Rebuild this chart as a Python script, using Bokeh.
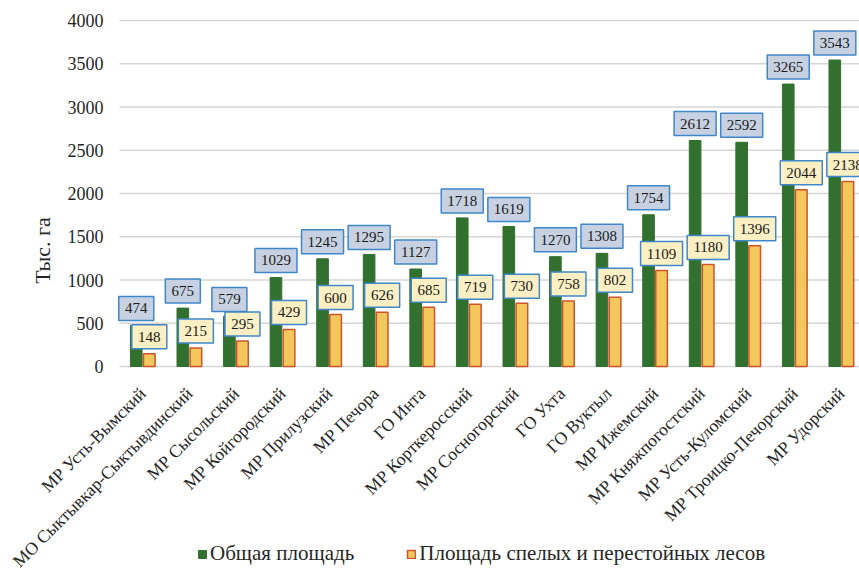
from math import pi
from bokeh.plotting import figure
from bokeh.models import (ColumnDataSource, Range1d, FixedTicker, Legend,
                          LegendItem, Label, LinearAxis)
from bokeh.core.properties import value
from bokeh.embed import file_html
from bokeh.resources import INLINE

categories = ["МР Усть-Вымский", "МО Сыктывкар-Сыктывдинский", "МР Сысольский",
              "МР Койгородский", "МР Прилузский", "МР Печора", "ГО Инта",
              "МР Корткеросский", "МР Сосногорский", "ГО Ухта", "ГО Вуктыл",
              "МР Ижемский", "МР Княжпогостский", "МР Усть-Куломский",
              "МР Троицко-Печорский", "МР Удорский"]
total_area = [474, 675, 579, 1029, 1245, 1295, 1127, 1718, 1619, 1270, 1308,
              1754, 2612, 2592, 3265, 3543]
mature_area = [148, 215, 295, 429, 600, 626, 685, 719, 730, 758, 802,
               1109, 1180, 1396, 2044, 2138]
y_ticks = [0, 500, 1000, 1500, 2000, 2500, 3000, 3500, 4000]
series_names = ["Общая площадь", "Площадь спелых и перестойных лесов"]
y_title = "Тыс. га"

FONT = "Liberation Serif"
GREEN = "#32702f"
YELLOW = "#f4c75c"
YELLOW_LINE = "#d0532b"
BOX_LINE = "#3f87c9"
TEXT = "#262626"

W, H = 859, 570
TOP = 20                  # pixels above the top grid line
n = len(categories)
xs = list(range(n))
Y_MAX = 4000
PX_ABOVE = 346            # pixels from value 0 up to Y_MAX
PX_BELOW = H - TOP - PX_ABOVE
px = Y_MAX / PX_ABOVE     # data units per pixel
CAT_PX = 46.57            # pixels per category
PLOT_LEFT = 119           # where the value axis sits
x_start = -0.5 - PLOT_LEFT / CAT_PX
x_end = x_start + W / CAT_PX
off = 0.14
bw = 0.25

p = figure(width=W, height=H, output_backend="svg", toolbar_location=None,
           x_range=Range1d(x_start, x_end),
           y_range=Range1d(-PX_BELOW * px, Y_MAX + TOP * px),
           x_axis_location=None, y_axis_location=None,
           min_border_left=0, min_border_top=0, min_border_right=0,
           min_border_bottom=0)
p.outline_line_color = None
p.background_fill_color = "white"
p.xgrid.grid_line_color = None
p.ygrid.grid_line_color = None

# horizontal grid lines, from the value axis to the right edge
p.segment(x0=[-0.5] * len(y_ticks), x1=[x_end] * len(y_ticks),
          y0=y_ticks, y1=y_ticks, line_color="#d6d6d6", line_width=1.3)

g_src = ColumnDataSource(dict(x=[i - off for i in xs], top=total_area))
y_src = ColumnDataSource(dict(x=[i + off for i in xs], top=mature_area))

g = p.vbar(x="x", top="top", width=bw, source=g_src,
           fill_color=GREEN, line_color=GREEN, line_width=1)
yb = p.vbar(x="x", top="top", width=bw, source=y_src,
            fill_color=YELLOW, line_color=YELLOW_LINE, line_width=1.5)

def label_source(xvals, vals):
    return ColumnDataSource(dict(
        x=xvals,
        y=[v + 17 * px for v in vals],
        w=[14 + 7 * len(str(v)) for v in vals],
        t=[str(v) for v in vals],
    ))

g_lab = label_source([i - off for i in xs], total_area)
y_lab = label_source([i + off for i in xs], mature_area)

for src, fill in ((g_lab, "#c7d1e1"), (y_lab, "#fbefc3")):
    p.rect(x="x", y="y", width="w", height=24, width_units="screen",
           height_units="screen", source=src, fill_color=fill,
           line_color=BOX_LINE, line_width=1.5)
    p.text(x="x", y="y", text="t", source=src, text_align="center",
           text_baseline="middle", text_font=value(FONT),
           text_font_size="15px", text_color="#1a1a1a")

# category axis along the zero line
xaxis = LinearAxis(fixed_location=0)
xaxis.ticker = FixedTicker(ticks=xs)
xaxis.major_label_overrides = {i: c for i, c in enumerate(categories)}
xaxis.major_label_orientation = pi / 4
xaxis.major_label_standoff = 24
xaxis.major_label_text_font_size = "17.6px"
p.add_layout(xaxis, "below")

# value axis at the left end of the categories
yaxis = LinearAxis(fixed_location=-0.5)
yaxis.ticker = FixedTicker(ticks=y_ticks)
yaxis.major_label_standoff = 16
yaxis.major_label_text_font_size = "18px"
p.add_layout(yaxis, "left")

for ax in (xaxis, yaxis):
    ax.major_label_text_font = FONT
    ax.major_label_text_color = TEXT
    ax.axis_line_color = None
    ax.major_tick_line_color = None
    ax.minor_tick_line_color = None
    ax.major_tick_out = 0
    ax.major_tick_in = 0

p.add_layout(Label(x=42, y=H - 250, x_units="screen", y_units="screen",
                   text=y_title, angle=pi / 2, text_align="center",
                   text_baseline="middle", text_font=FONT,
                   text_font_size="22px", text_color=TEXT))

legend = Legend(items=[LegendItem(label=series_names[0], renderers=[g]),
                       LegendItem(label=series_names[1], renderers=[yb])],
                orientation="horizontal", location=(197, 4),
                background_fill_alpha=0, border_line_color=None, padding=0,
                margin=0, spacing=52, glyph_width=10, glyph_height=10,
                label_standoff=3, label_text_font=FONT,
                label_text_font_size="21px", label_height=22,
                label_text_color=TEXT)
p.add_layout(legend)

open("out.html", "w").write(file_html(p, INLINE))
